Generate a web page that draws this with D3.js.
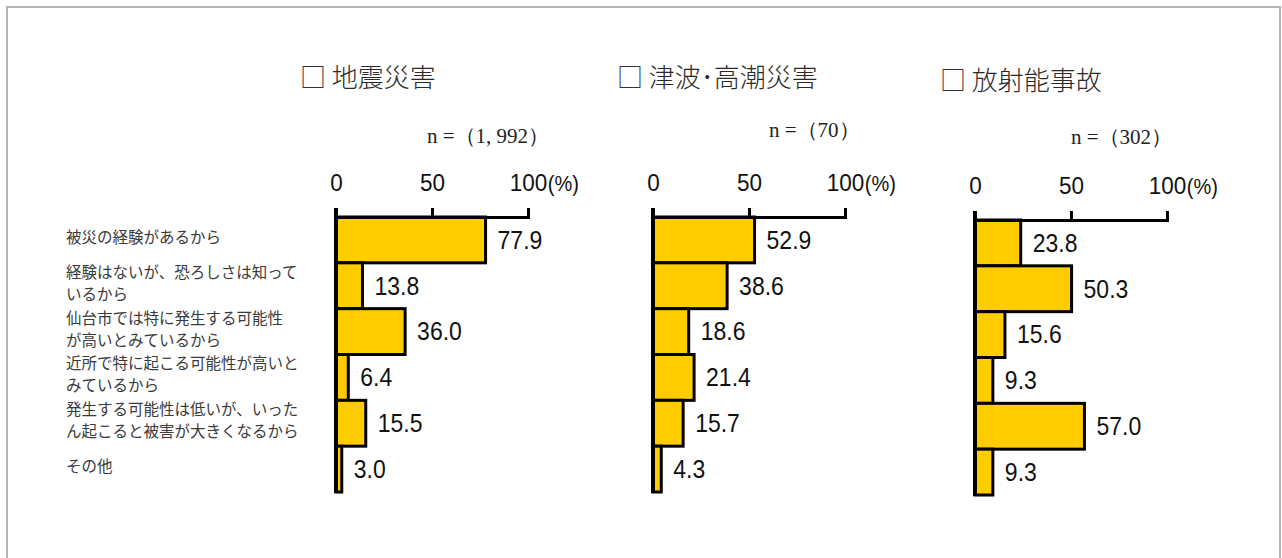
<!DOCTYPE html>
<html><head><meta charset="utf-8">
<script src="https://cdn.jsdelivr.net/npm/d3@7"></script>
<style>body{margin:0;background:#fff}svg{display:block}</style>
</head><body>
<svg id="c" width="1282" height="558"></svg>
<script>
// ---- data ----
const categories = [
  "被災の経験があるから",
  "経験はないが、恐ろしさは知って\nいるから",
  "仙台市では特に発生する可能性\nが高いとみているから",
  "近所で特に起こる可能性が高いと\nみているから",
  "発生する可能性は低いが、いった\nん起こると被害が大きくなるから",
  "その他"
];
const seriesNames = ["地震災害", "津波･高潮災害", "放射能事故"];
const sampleSizes = ["1, 992", "70", "302"];
const earthquake = [77.9, 13.8, 36.0, 6.4, 15.5, 3.0];
const tsunami    = [52.9, 38.6, 18.6, 21.4, 15.7, 4.3];
const radiation  = [23.8, 50.3, 15.6, 9.3, 57.0, 9.3];
const tickValues = [0, 50, 100];
const unitLabel = "(%)";

const series = [earthquake, tsunami, radiation];

// ---- layout ----
const panels = [
  {x0: 336, axisY: 217, titleX: 300, titleY: 75, nX: 427, nY: 136},
  {x0: 653, axisY: 217, titleX: 617, titleY: 75, nX: 769, nY: 130},
  {x0: 975, axisY: 220, titleX: 940, titleY: 78, nX: 1071, nY: 137}
];
const plotW = 192, plotH = 275;
const numFont = "'Liberation Sans', Arial, sans-serif";
const jpFont = "'Noto Sans CJK JP', 'Noto Sans CJK SC', sans-serif";
const SY = 1.1; // vertical stretch for numerals

const svg = d3.select("#c");

svg.append("rect").attr("x", 7).attr("y", 7).attr("width", 1273).attr("height", 600)
  .attr("fill", "none").attr("stroke", "#b4b4b4").attr("stroke-width", 2);

const x = d3.scaleLinear().domain([0, 100]).range([0, plotW]);
const y = d3.scaleBand().domain(d3.range(categories.length)).range([0, plotH]).padding(0);

// category labels (aligned to first panel)
const labG = svg.append("g").attr("transform", `translate(66,${panels[0].axisY})`);
categories.forEach((c, i) => {
  const lines = c.split("\n");
  const cy = y(i) + y.bandwidth() / 2 - 4;
  const lh = 22;
  const t = labG.append("text")
    .attr("font-family", jpFont).attr("font-size", 15.5).attr("fill", "#3a3a3a");
  lines.forEach((ln, k) => {
    t.append("tspan").attr("x", 0)
      .attr("y", cy + (k - (lines.length - 1) / 2) * lh)
      .attr("dominant-baseline", "central")
      .text(ln);
  });
});

panels.forEach((p, pi) => {
  // title
  const tt = svg.append("text").attr("x", p.titleX).attr("y", p.titleY)
    .attr("dominant-baseline", "central")
    .attr("font-family", jpFont).attr("font-size", 26).attr("fill", "#2a2a2a");
  tt.append("tspan").attr("font-weight", 400).attr("fill", "#333").text("□ ");
  tt.append("tspan").attr("font-weight", 300).text(seriesNames[pi]);
  // n
  svg.append("text").attr("x", p.nX).attr("y", p.nY)
    .attr("dominant-baseline", "central")
    .attr("font-family", "'Liberation Serif', 'DejaVu Serif', serif")
    .attr("font-size", 21).attr("fill", "#222")
    .text("n =（" + sampleSizes[pi] + "）");

  const g = svg.append("g").attr("transform", `translate(${p.x0},${p.axisY})`);

  // bars
  g.selectAll("rect.bar").data(series[pi]).join("rect")
    .attr("class", "bar")
    .attr("x", 0)
    .attr("y", (d, i) => y(i))
    .attr("width", d => x(d))
    .attr("height", y.bandwidth())
    .attr("fill", "#FFCC00")
    .attr("stroke", "#000").attr("stroke-width", 3);

  // value labels
  g.selectAll("text.val").data(series[pi]).join("text")
    .attr("class", "val")
    .attr("transform", (d, i) => `translate(${x(d) + 12},${y(i) + y.bandwidth() / 2}) scale(1,${SY})`)
    .attr("dominant-baseline", "central")
    .attr("font-family", numFont).attr("font-size", 23).attr("fill", "#111")
    .text(d => d.toFixed(1));

  // axis
  const axis = d3.axisTop(x).tickValues(tickValues).tickSize(9).tickSizeOuter(9).tickPadding(0)
    .tickFormat(d3.format("d"));
  const ag = g.append("g").call(axis);
  ag.select(".domain").attr("stroke", "#000").attr("stroke-width", 3);
  ag.selectAll(".tick line").attr("stroke", "#000").attr("stroke-width", 3);
  ag.selectAll(".tick text")
    .attr("y", null).attr("dy", null)
    .attr("transform", `translate(0,-34) scale(1,${SY})`)
    .attr("dominant-baseline", "central")
    .attr("font-family", numFont).attr("font-size", 22.5).attr("fill", "#111");

  // unit label after 100
  const lastText = ag.selectAll(".tick text").filter(d => d === 100).node();
  const w = lastText.getComputedTextLength();
  g.append("text")
    .attr("transform", `translate(${x(100) + w / 2 + 1},-34) scale(1,${SY})`)
    .attr("dominant-baseline", "central")
    .attr("font-family", numFont).attr("font-size", 20).attr("fill", "#111")
    .text(unitLabel);

  // vertical axis line
  g.append("line").attr("x1", x(0)).attr("x2", x(0)).attr("y1", -9).attr("y2", plotH + 1)
    .attr("stroke", "#000").attr("stroke-width", 4);
});
</script>
</body></html>
